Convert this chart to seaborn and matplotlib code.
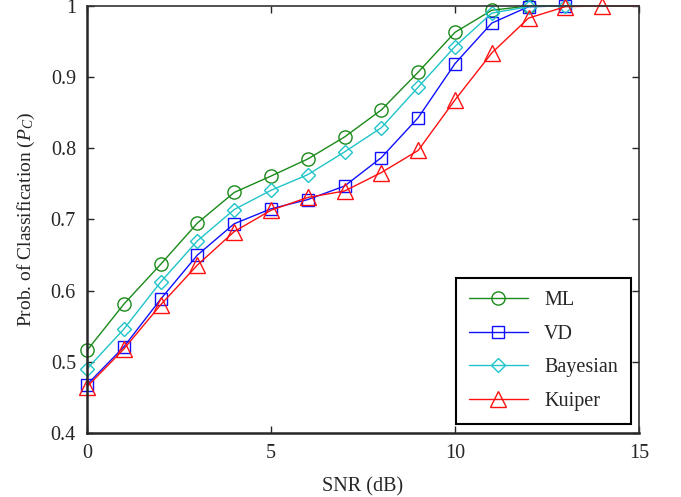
import numpy as np
import pandas as pd
import matplotlib
matplotlib.use('Agg')
import matplotlib.pyplot as plt
import seaborn as sns

sns.set_style('ticks')
plt.rcParams['font.family'] = ['Liberation Serif', 'DejaVu Serif']
plt.rcParams['mathtext.fontset'] = 'custom'
plt.rcParams['mathtext.it'] = 'Liberation Serif:italic'
plt.rcParams['mathtext.rm'] = 'Liberation Serif'

# Данные
snr = list(range(16))
ml = [0.516, 0.581, 0.637, 0.695, 0.738, 0.761, 0.785, 0.816, 0.854, 0.907,
      0.963, 0.994, 1.0, 1.0, 1.0, 1.0]
vd = [0.468, 0.521, 0.588, 0.650, 0.694, 0.715, 0.728, 0.747, 0.787, 0.843,
      0.919, 0.976, 0.999, 1.0, 1.0, 1.0]
bayes = [0.490, 0.546, 0.612, 0.670, 0.714, 0.741, 0.763, 0.795, 0.829, 0.886,
         0.943, 0.990, 0.999, 1.0, 1.0, 1.0]
kuiper = [0.465, 0.518, 0.580, 0.636, 0.683, 0.713, 0.731, 0.740, 0.766, 0.797,
          0.868, 0.934, 0.983, 0.999, 1.0, 1.0]

series = [
    ('ML', ml, '#1a8a1a', 'o', 9.5, 13),
    ('VD', vd, '#1010ff', 's', 9, 14),
    ('Bayesian', bayes, '#20c4c8', 'D', 7, 14),
    ('Kuiper', kuiper, '#ff1010', '^', 11, 15),
]

fig = plt.figure(figsize=(6.81, 4.97), dpi=100)
ax = fig.add_axes([0.1278, 0.1288, 0.8105, 0.8592])

for name, vals, color, marker, ms, n_marks in series:
    sns.lineplot(x=snr, y=vals, ax=ax, color=color, label=name, marker=marker,
                 markersize=ms, mfc='none', mec=color, mew=1.0, lw=1.0,
                 markevery=list(range(n_marks)), clip_on=False)

ax.set_xlim(0, 15)
ax.set_ylim(0.4, 1.0)
ax.set_xticks([0, 5, 10, 15])
ax.set_yticks([0.4, 0.5, 0.6, 0.7, 0.8, 0.9, 1.0])
ax.set_yticklabels(['0.4', '0.5', '0.6', '0.7', '0.8', '0.9', '1'])
ax.tick_params(direction='in', top=True, right=True, length=5, width=1,
               labelsize=14.5, pad=8)
for side in ['left', 'bottom']:
    ax.spines[side].set_linewidth(1.8)
for side in ['top', 'right']:
    ax.spines[side].set_visible(True)
    ax.spines[side].set_linewidth(1.2)
    ax.spines[side].set_color('#333333')

ax.set_xlabel('SNR (dB)', fontsize=14.5, labelpad=10)
ax.set_ylabel('Prob. of Classification ($P_C$)', fontsize=14, labelpad=10)

leg = ax.legend(loc='lower right', fontsize=14.5, handlelength=2.95,
                numpoints=1, fancybox=False, framealpha=1, edgecolor='black',
                borderpad=0.65, labelspacing=0.72, handletextpad=0.8,
                borderaxespad=0, bbox_to_anchor=(0.9855, 0.021))
leg.get_frame().set_linewidth(1.5)

fig.savefig('out.png', dpi=100)
